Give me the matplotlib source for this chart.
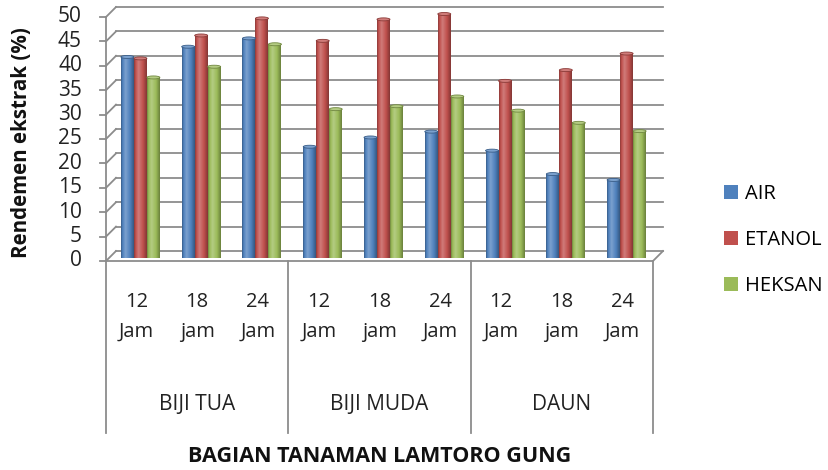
import matplotlib
matplotlib.use("Agg")
import matplotlib.pyplot as plt
import numpy as np
from matplotlib.colors import LinearSegmentedColormap, to_rgb
from matplotlib.patches import Patch, Ellipse

plt.rcParams["font.family"] = ["Open Sans", "DejaVu Sans"]

# data
groups = ["BIJI TUA", "BIJI MUDA", "DAUN"]
time_num = ["12", "18", "24"] * 3
time_unit = ["Jam", "jam", "Jam"] * 3
series = ["AIR", "ETANOL", "HEKSAN"]
air = [41.2, 43.3, 45.0, 22.8, 24.7, 25.9, 22.0, 17.2, 16.0]
etanol = [40.9, 45.6, 49.1, 44.5, 48.9, 50.0, 36.3, 38.5, 41.9]
heksan = [37.0, 39.2, 43.8, 30.5, 31.1, 33.1, 30.2, 27.7, 26.0]
yticks = list(range(0, 55, 5))

colors = ["#4F81BD", "#C0504D", "#9BBB59"]
grid_c = "#8c8c8c"
W, H = 829, 470

fig = plt.figure(figsize=(W / 100, H / 100), dpi=100)
# axes = plane in which the bars stand (mid depth of the 3d box)
ax = fig.add_axes([110 / W, (H - 258) / H, 547 / W, 244 / H])
ax.set_xlim(-0.5, 8.5)
ax.set_ylim(0, 50)
ax.axis("off")

px_x = 9 / 547   # data units per pixel
px_y = 50 / 244
fdx, fdy = -4 * px_x, -3 * px_y   # front plane
bdx, bdy = 6 * px_x, 7 * px_y     # back wall
x0, x1 = -0.5, 8.5

# back wall gridlines, side wall diagonals, front ticks
for v in yticks:
    ax.plot([x0 + bdx, x1 + bdx], [v + bdy, v + bdy], color=grid_c, lw=1.3, clip_on=False, zorder=1)
    ax.plot([x0 + fdx, x0 + bdx], [v + fdy, v + bdy], color=grid_c, lw=1.3, clip_on=False, zorder=1)
    ax.plot([x0 + fdx - 6 * px_x, x0 + fdx], [v + fdy, v + fdy], color=grid_c, lw=1.3, clip_on=False, zorder=1)
    ax.text(x0 + fdx - 24 * px_x, v + fdy, str(v), ha="right", va="center", fontsize=15, color="#222222")
ax.plot([x0 + fdx, x0 + fdx], [yticks[0] + fdy, yticks[-1] + fdy], color=grid_c, lw=1.3, clip_on=False)
# floor
ax.plot([x0 + fdx, x1 + fdx, x1 + bdx], [fdy, fdy, bdy], color=grid_c, lw=1.3, clip_on=False, zorder=1)

# bars with cylinder-like shading
w = 13 * px_x
grad = np.linspace(0, 1, 64)[None, :]
for k, (vals, c) in enumerate(zip([air, etanol, heksan], colors)):
    base = np.array(to_rgb(c))
    dark = base * 0.72
    light = np.clip(base + (1 - base) * 0.25, 0, 1)
    cmap = LinearSegmentedColormap.from_list(
        "s%d" % k, [(0, dark), (0.12, base), (0.35, light), (0.7, base), (1, dark * 0.95)])
    bars = ax.bar(np.arange(9) + (k - 1) * w, vals, width=w, color=c, zorder=2, clip_on=False)
    for r in bars:
        xl, bw, bh = r.get_x(), r.get_width(), r.get_height()
        ax.imshow(grad, cmap=cmap, aspect="auto", zorder=3, clip_on=False,
                  extent=[xl, xl + bw, 0, bh])
        ax.add_patch(Ellipse((xl + bw / 2, bh), bw, 3 * px_y, facecolor=light, edgecolor=dark,
                             lw=0.6, zorder=4, clip_on=False))
ax.set_xlim(-0.5, 8.5)
ax.set_ylim(0, 50)

# category axis (two levels)
y_px = lambda py: -(py - 258) * px_y
for b in [-0.5, 2.5, 5.5, 8.5]:
    ax.plot([b + fdx, b + fdx], [fdy, y_px(433)], color=grid_c, lw=1.3, clip_on=False)
for i in range(9):
    ax.text(i + fdx, y_px(302), time_num[i], ha="center", va="center", fontsize=14.5, color="#222222")
    ax.text(i + fdx, y_px(332), time_unit[i], ha="center", va="center", fontsize=14.5, color="#222222")
for g, name in enumerate(groups):
    ax.text(3 * g + 1 + fdx, y_px(404), name, ha="center", va="center", fontsize=15, color="#222222")
ax.text(4 + fdx, y_px(457), "BAGIAN TANAMAN LAMTORO GUNG", ha="center", va="center",
        fontsize=15.5, fontweight="bold", color="#111111")

fig.text(22 / W, 1 - 143 / H, "Rendemen ekstrak (%)", rotation=90, ha="center", va="center",
         fontsize=14.8, fontweight="bold", color="#111111")

handles = [Patch(facecolor=c, edgecolor="none") for c in colors]
fig.legend(handles, series, loc="center left", bbox_to_anchor=(716 / W, 1 - 240 / H),
           frameon=False, fontsize=14.5, handlelength=0.7, handleheight=0.7,
           handletextpad=0.35, labelspacing=1.3, borderaxespad=0)

fig.savefig("out.png", dpi=100)
